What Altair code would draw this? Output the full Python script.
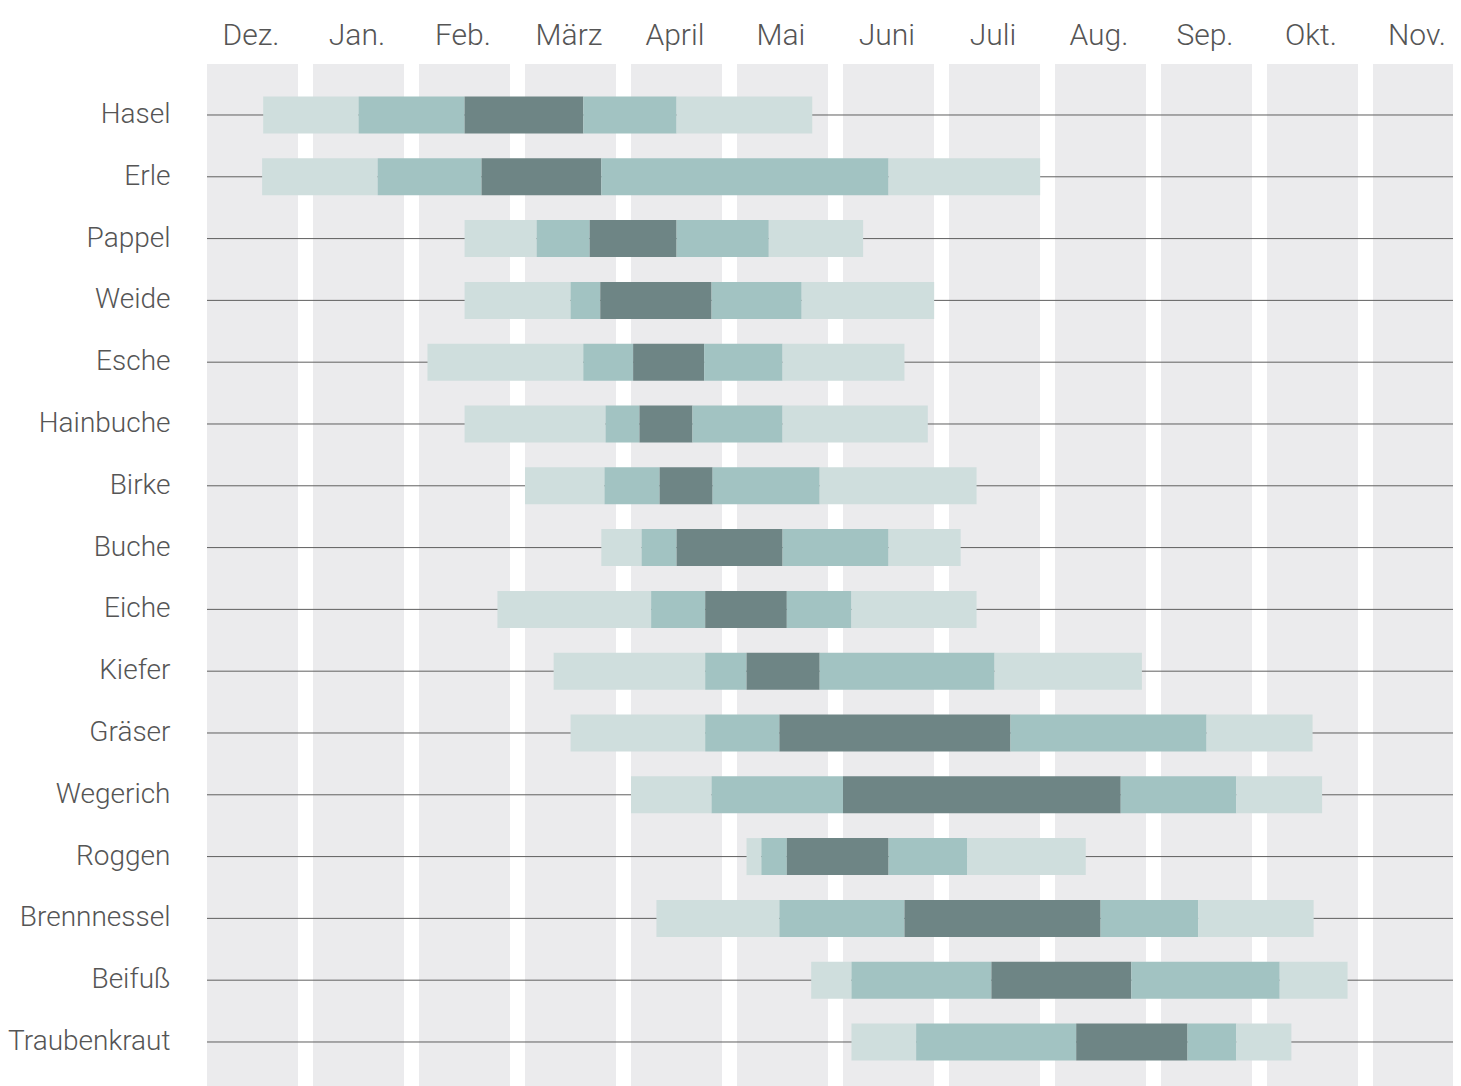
import json
import altair as alt
import pandas as pd

months = ["Dez.", "Jan.", "Feb.", "März", "April", "Mai", "Juni", "Juli", "Aug.", "Sep.", "Okt.", "Nov."]

plants = ["Hasel", "Erle", "Pappel", "Weide", "Esche", "Hainbuche", "Birke", "Buche",
          "Eiche", "Kiefer", "Gräser", "Wegerich", "Roggen", "Brennnessel", "Beifuß", "Traubenkraut"]

# boundaries in months counted from the start of December
light_start  = [0.53, 0.52, 2.43, 2.43, 2.08, 2.43, 3.00, 3.72, 2.74, 3.27, 3.43, 4.00, 5.09, 4.24, 5.70, 6.08]
medium_start = [1.43, 1.61, 3.11, 3.43, 3.55, 3.76, 3.75, 4.10, 4.19, 4.70, 4.70, 4.76, 5.23, 5.40, 6.08, 6.69]
dark_start   = [2.43, 2.59, 3.61, 3.71, 4.02, 4.08, 4.27, 4.43, 4.70, 5.09, 5.40, 6.00, 5.47, 6.58, 7.40, 8.20]
dark_end     = [3.55, 3.72, 4.43, 4.76, 4.69, 4.58, 4.77, 5.43, 5.47, 5.78, 7.58, 8.62, 6.43, 8.43, 8.72, 9.25]
medium_end   = [4.43, 6.43, 5.30, 5.61, 5.43, 5.43, 5.78, 6.43, 6.08, 7.43, 9.43, 9.71, 7.17, 9.35, 10.12, 9.71]
light_end    = [5.71, 7.86, 6.19, 6.86, 6.58, 6.80, 7.26, 7.11, 7.26, 8.82, 10.43, 10.52, 8.29, 10.44, 10.76, 10.23]

levels = ["gering", "mittel", "stark"]
level_colors = ["#CFDEDD", "#A2C3C2", "#6E8585"]

FONT = "Roboto, 'Liberation Sans', sans-serif"
TEXT = "#555555"
COL_FRAC = 91 / 106  # share of a month slot filled by the grey column

seg_rows = []
for i, p in enumerate(plants):
    segs = [
        (light_start[i], medium_start[i], "gering"),
        (medium_start[i], dark_start[i], "mittel"),
        (dark_start[i], dark_end[i], "stark"),
        (dark_end[i], medium_end[i], "mittel"),
        (medium_end[i], light_end[i], "gering"),
    ]
    for s, e, lv in segs:
        seg_rows.append({"plant": p, "start": s, "end": e, "level": lv})
segs_df = pd.DataFrame(seg_rows)

cols_df = pd.DataFrame({"start": [m for m in range(len(months))],
                        "end": [m + COL_FRAC for m in range(len(months))]})
plants_df = pd.DataFrame({"plant": plants})

W, H = 1246, 1022
x_dom = [0, W / 106]

xscale = alt.Scale(domain=x_dom, nice=False, zero=False, clamp=True)
# first row centre 51 px below the top, rows 61.8 px apart
yscale = alt.Scale(domain=plants, paddingInner=0, paddingOuter=0.2686, align=0.605)

label_expr = json.dumps(months) + "[floor(datum.value)]"

columns = alt.Chart(cols_df).mark_rect(color="#EBEBED").encode(
    x=alt.X("start:Q", scale=xscale,
            axis=alt.Axis(orient="top", values=[m + 0.41 for m in range(len(months))],
                          labelExpr=label_expr, title=None, domain=False, ticks=False,
                          tickSize=0, grid=False, labelPadding=14, labelFontSize=30,
                          labelFont=FONT, labelFontWeight=300, labelColor=TEXT,
                          labelFlush=False, labelOverlap=False)),
    x2="end:Q",
    y=alt.value(0),
    y2=alt.value(H),
)

rules = alt.Chart(plants_df).mark_rule(color="#5f5f5f", strokeWidth=1).encode(
    y=alt.Y("plant:N", scale=yscale, sort=plants,
            axis=alt.Axis(title=None, domain=False, ticks=False, tickSize=0,
                          labelPadding=37, labelFontSize=28, labelFont=FONT,
                          labelFontWeight=300, labelColor=TEXT, labelLimit=400)),
)

bars = alt.Chart(segs_df).mark_bar(height=37).encode(
    x=alt.X("start:Q", scale=xscale),
    x2="end:Q",
    y=alt.Y("plant:N", scale=yscale, sort=plants),
    color=alt.Color("level:N", scale=alt.Scale(domain=levels, range=level_colors), legend=None),
)

chart = alt.layer(columns, rules, bars).properties(
    width=W, height=H,
    autosize=alt.AutoSizeParams(type="none"),
    padding={"left": 199, "top": 56, "right": 0, "bottom": 0},
    background="white",
).configure_view(stroke=None)

chart.save("out.html", embed_options={"renderer": "svg", "actions": False})
